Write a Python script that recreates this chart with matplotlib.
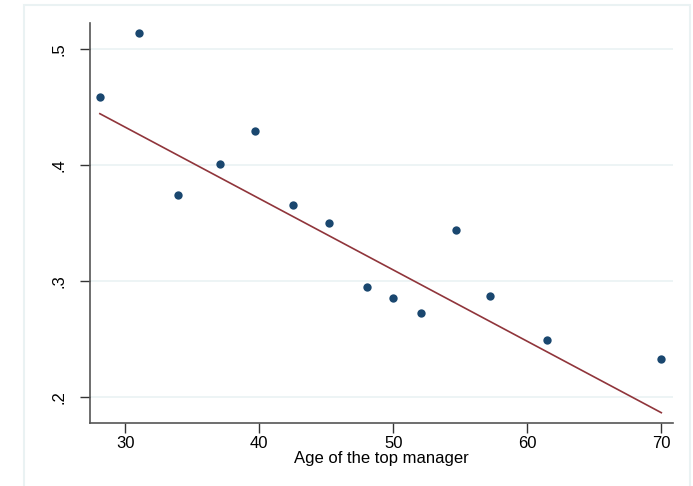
import matplotlib
matplotlib.use("Agg")
from matplotlib import pyplot as plt
from matplotlib.patches import Rectangle

plt.rcParams['font.family'] = ['Liberation Sans', 'DejaVu Sans']

# binned means: age of the top manager vs outcome
age = [28.1, 31.0, 33.9, 37.1, 39.7, 42.5, 45.2, 48.0, 50.0, 52.1, 54.7, 57.2, 61.5, 70.0]
share = [0.459, 0.514, 0.374, 0.401, 0.430, 0.366, 0.350, 0.295, 0.286, 0.273, 0.344, 0.287, 0.249, 0.233]

# linear fit endpoints
fit_x = [28.1, 70.0]
fit_y = [0.4445, 0.1867]

xticks = [30, 40, 50, 60, 70]
yticks = [0.2, 0.3, 0.4, 0.5]
ylabels = ['.2', '.3', '.4', '.5']

fig = plt.figure(figsize=(6.93, 4.86), dpi=100)
ax = fig.add_axes([0.1294, 0.1296, 0.8413, 0.8231])

# outer light frame (stata style)
fig.patches.append(Rectangle((0.034, -0.05), 0.962, 1.04, transform=fig.transFigure,
                             fill=False, edgecolor='#eaf2f3', linewidth=1.5))

for y in yticks:
    ax.axhline(y, color='#eaf2f3', linewidth=1.2, zorder=0)

ax.plot(fit_x, fit_y, color='#90353b', linewidth=1.2, zorder=2)
ax.scatter(age, share, s=36, color='#1a476f', zorder=3, linewidths=0)

ax.set_xlim(27.34, 70.85)
ax.set_ylim(0.1778, 0.5227)
ax.set_xticks(xticks)
ax.set_yticks(yticks)
ax.set_yticklabels(ylabels, rotation=90, va='center')

for s in ['top', 'right']:
    ax.spines[s].set_visible(False)
for s in ['left', 'bottom']:
    ax.spines[s].set_color('#555555')
    ax.spines[s].set_linewidth(1.2)

ax.tick_params(axis='both', length=7, width=1, color='#333333', labelsize=12, pad=2)
ax.tick_params(axis='y', pad=10)
ax.set_xlabel('Age of the top manager', fontsize=12, labelpad=0)

fig.savefig('out.png', dpi=100)
